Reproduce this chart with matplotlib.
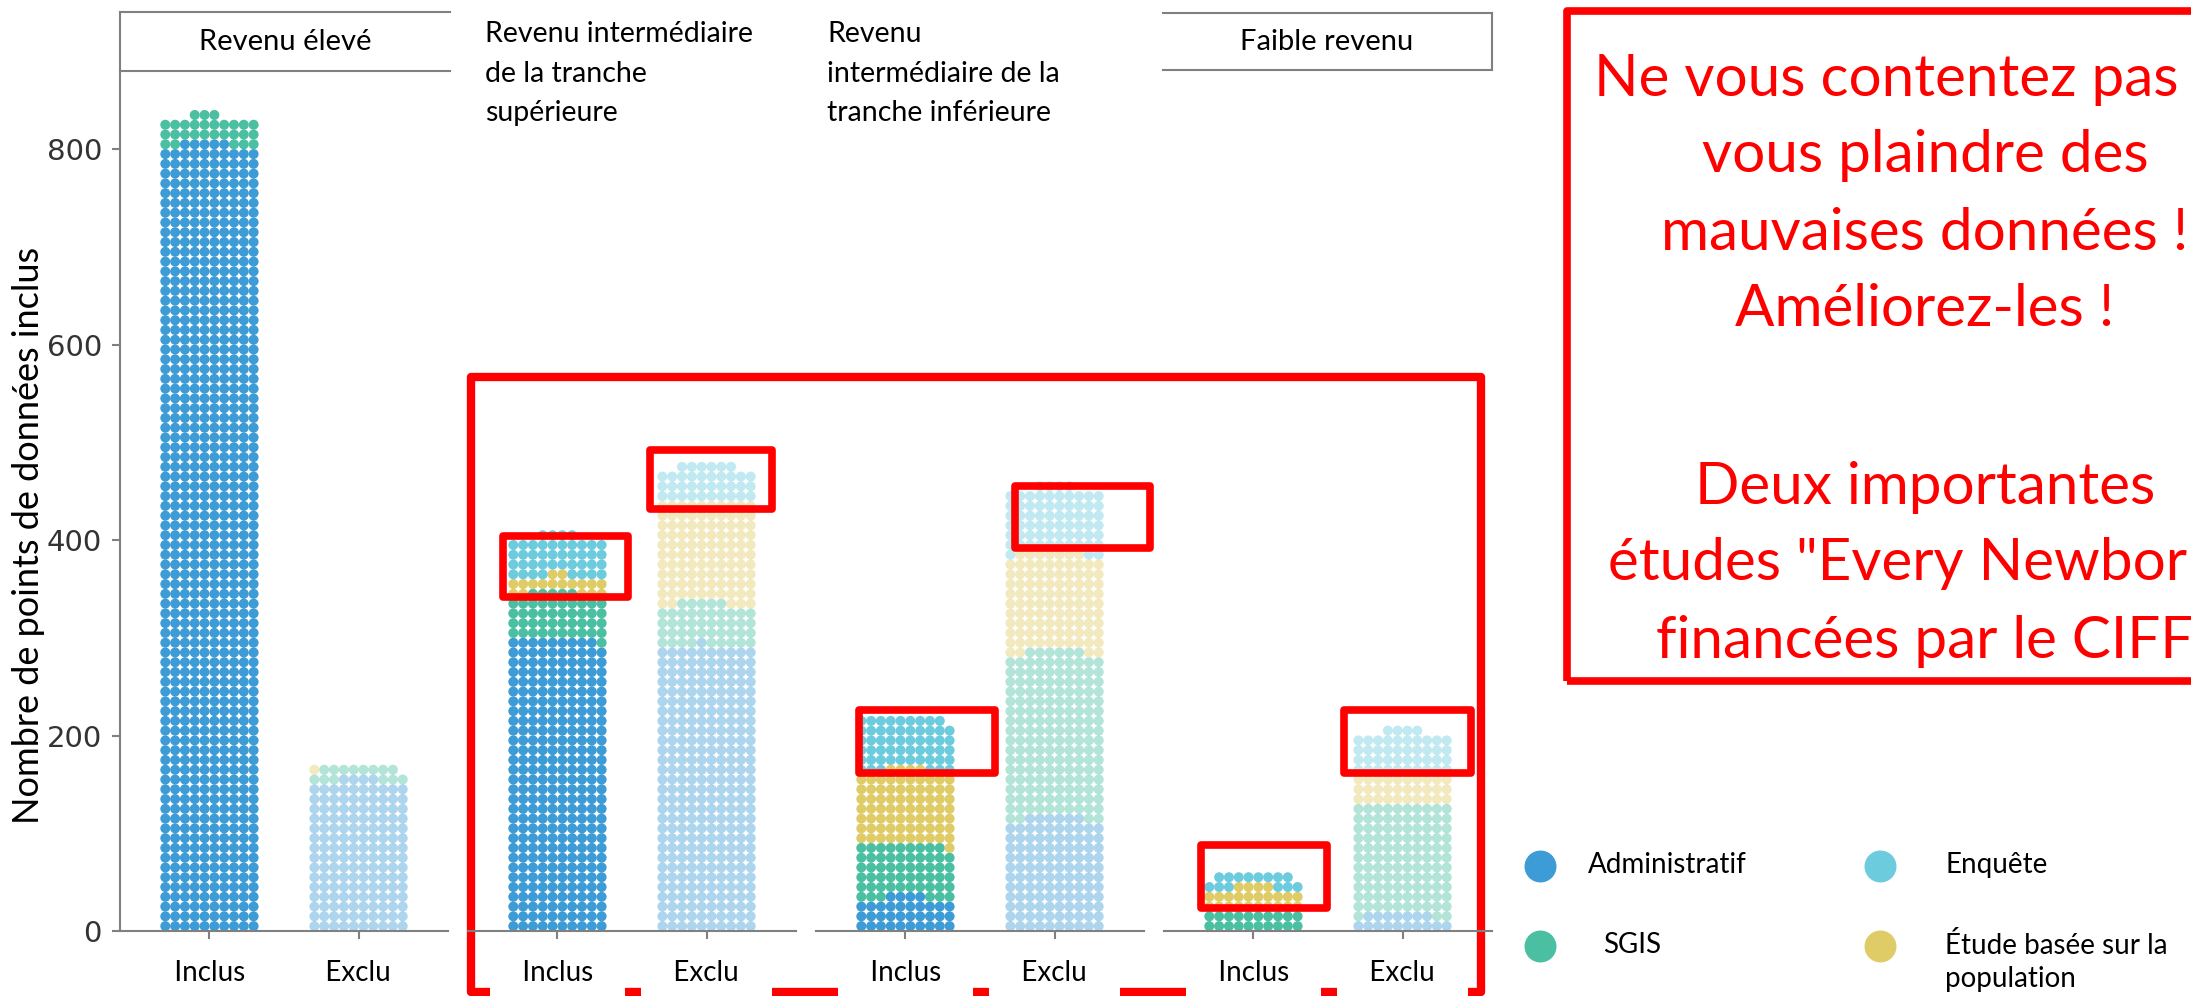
import matplotlib.pyplot as plt
from matplotlib.patches import Rectangle
from matplotlib.lines import Line2D
import numpy as np

plt.rcParams['font.family'] = ['Lato', 'DejaVu Sans']

W, H = 2191, 996

sources = ['Administratif', 'SGIS', 'Étude basée sur la\npopulation', 'Enquête']
colors = ['#3D9BD6', '#4ABFA2', '#E0CC67', '#6DCBDE']

groups = ['Revenu élevé',
          'Revenu intermédiaire\nde la tranche\nsupérieure',
          'Revenu\nintermédiaire de la\ntranche inférieure',
          'Faible revenu']
statuses = ['Inclus', 'Exclu']

# number of data points per source: administratif, SGIS, population, enquête
included = [[805, 28, 0, 0], [299, 46, 17, 42], [34, 55, 75, 55], [0, 20, 24, 14]]
excluded = [[154, 14, 1, 0], [291, 44, 105, 36], [116, 170, 101, 67], [17, 113, 30, 44]]

yticks = [0, 200, 400, 600, 800]


def dot_layout(counts, per_row=10):
    # one dot per data point, rows of 10; a partial row is centred and
    # the next source starts in the side slots of that row
    cols, rows, cats = [], [], []
    next_row = 0
    free, prow = [], None
    for k, n in enumerate(counts):
        while n > 0 and free:
            cols.append(free.pop(0)); rows.append(prow); cats.append(k); n -= 1
        full, rest = divmod(n, per_row)
        for r in range(full):
            for c in range(per_row):
                cols.append(c); rows.append(next_row); cats.append(k)
            next_row += 1
        if rest:
            start = (per_row - rest) // 2
            for c in range(start, start + rest):
                cols.append(c); rows.append(next_row); cats.append(k)
            side = [c for c in range(per_row) if c < start or c >= start + rest]
            side.sort(key=lambda c: -abs(c - (per_row - 1) / 2))
            free, prow = side, next_row
            next_row += 1
    return np.array(cols), np.array(rows), np.array(cats)


def px(x, y):
    return x / W, 1 - y / H


def fig_line(fig, x0, y0, x1, y1, **kw):
    (a, b), (c, d) = px(x0, y0), px(x1, y1)
    fig.add_artist(Line2D([a, c], [b, d], transform=fig.transFigure, **kw))


def fig_rect(fig, x0, y0, x1, y1, z=5, lw=5.5):
    a, b = px(x0, y1)
    r = Rectangle((a, b), (x1 - x0) / W, (y1 - y0) / H, transform=fig.transFigure,
                  fill=False, edgecolor='#FF0000', linewidth=lw, zorder=z,
                  joinstyle='round')
    fig.add_artist(r)


fig = plt.figure(figsize=(W / 100, H / 100), dpi=100)
gray = '#808080'
dx = 0.0658

for i, g in enumerate(groups):
    ax = fig.add_axes([(120 + 348 * i) / W, (H - 931) / H, 328 / W, 860 / H])
    ax.patch.set_visible(False)
    for j, counts in enumerate([included[i], excluded[i]]):
        cols, rows, cats = dot_layout(counts)
        if len(cols) == 0:
            continue
        xs = j + (cols - 4.5) * dx
        ys = (rows + 0.5) * 10
        cc = [colors[k] for k in cats]
        ax.scatter(xs, ys, s=52, c=cc, linewidths=0, alpha=1.0 if j == 0 else 0.42)
    ax.set_xlim(-0.6, 1.6)
    ax.set_ylim(0, 880)
    ax.set_xticks([0, 1])
    ax.set_xticklabels(['   ' + s + '   ' for s in statuses], fontsize=20)
    for lab in ax.get_xticklabels():
        lab.set_bbox(dict(facecolor='white', edgecolor='none', pad=8))
    ax.tick_params(axis='x', length=6, width=1.5, color=gray, pad=15)
    for s in ['top', 'right']:
        ax.spines[s].set_visible(False)
    ax.spines['bottom'].set_color(gray)
    ax.spines['bottom'].set_linewidth(1.5)
    if i == 0:
        ax.spines['left'].set_color(gray)
        ax.spines['left'].set_linewidth(1.5)
        ax.set_yticks(yticks)
        ax.set_yticklabels([str(t) for t in yticks], fontsize=21,
                           family='DejaVu Sans', color='#333333')
        ax.tick_params(axis='y', length=6, width=1.5, color=gray, pad=7)
    else:
        ax.spines['left'].set_visible(False)
        ax.set_yticks([])

fig.text(*px(29, 535), 'Nombre de points de données inclus', fontsize=26,
         rotation=90, ha='center', va='center')

# facet headers
fig_line(fig, 120, 12, 450, 12, color=gray, lw=1.5)
fig_line(fig, 120, 71, 450, 71, color=gray, lw=1.5)
fig_line(fig, 120, 12, 120, 71, color=gray, lw=1.5)
fig.text(*px(285, 42), groups[0], fontsize=21, ha='center', va='center')

fig_line(fig, 1163, 13, 1492, 13, color=gray, lw=1.5)
fig_line(fig, 1163, 70, 1492, 70, color=gray, lw=1.5)
fig_line(fig, 1492, 13, 1492, 70, color=gray, lw=1.5)
fig.text(*px(1327, 42), groups[3], fontsize=21, ha='center', va='center')

for gx, g in [(485, groups[1]), (827, groups[2])]:
    for k, line in enumerate(g.split('\n')):
        fig.text(*px(gx, 42 + 39.5 * k), line, fontsize=20.5, ha='left', va='baseline')

# legend
leg_pos = [(1540, 866), (1540, 946), (1880, 946), (1880, 866)]
txt_x = [1588, 1603, 1945, 1945]
for k, name in enumerate(sources):
    x, y = leg_pos[k]
    fig.add_artist(Line2D([x / W], [1 - y / H], transform=fig.transFigure, marker='o',
                          markersize=22, color=colors[k], linestyle='none'))
    fig.text(*px(txt_x[k], y - 14), name, fontsize=20, ha='left', va='top',
             linespacing=1.35)

# red annotations
fig_rect(fig, 471, 377, 1481, 992, z=-1, lw=6)
for box in [(503, 536, 628, 597), (650, 450, 772, 509), (859, 710, 995, 773),
            (1015, 486, 1150, 548), (1201, 845, 1327, 908), (1344, 710, 1471, 773)]:
    fig_rect(fig, *box, z=5, lw=5.5)

fig_rect(fig, 1567, 11, 2280, 681, z=5, lw=5.5)
red_lines = [('Ne vous contentez pas de', 96), ('vous plaindre des', 172),
             ('mauvaises données !', 250), ('Améliorez-les !', 326),
             ('Deux importantes', 504), ('études "Every Newborn"', 580),
             ('financées par le CIFF', 658)]
for line, yb in red_lines:
    fig.text(*px(1925, yb), line, fontsize=42, color='#FF0000', ha='center', va='baseline')

fig.savefig('out.png', dpi=100)
